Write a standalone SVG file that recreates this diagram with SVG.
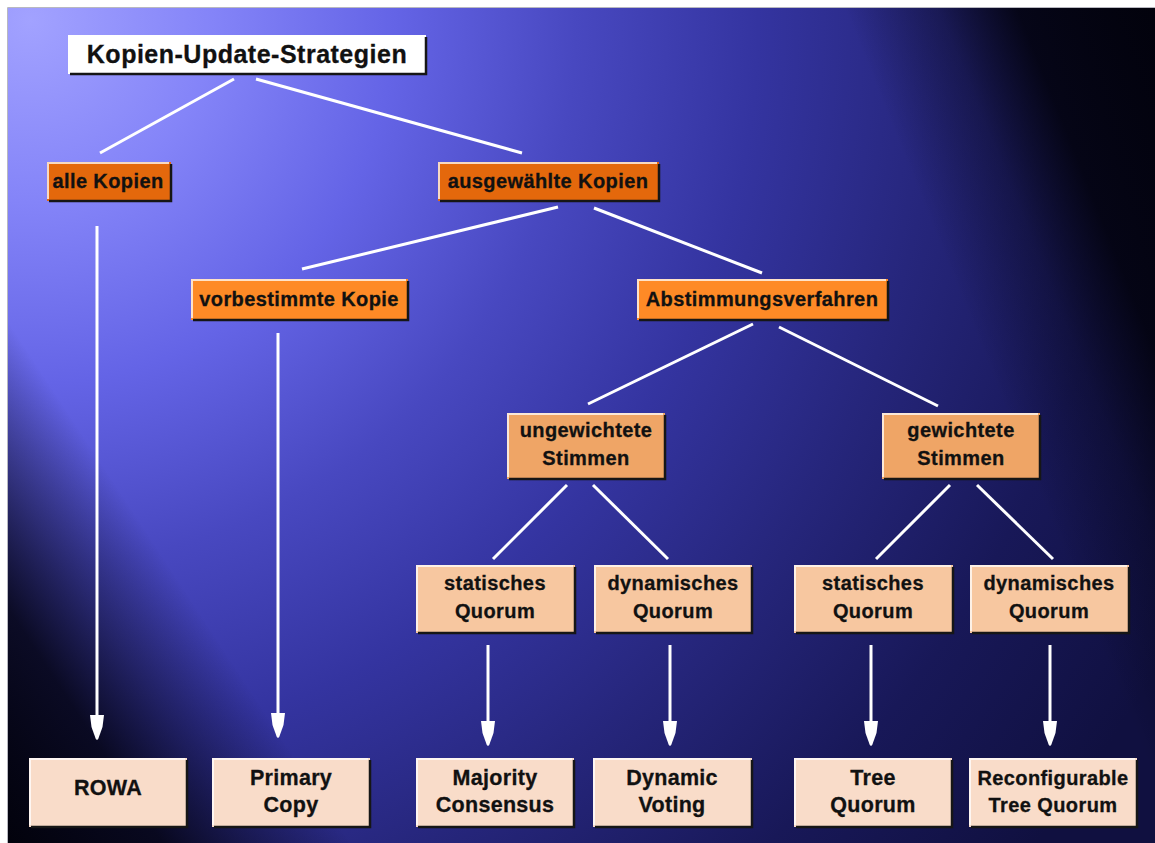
<svg xmlns="http://www.w3.org/2000/svg" width="1155" height="843" viewBox="0 0 1155 843">
  <defs>
    <radialGradient id="bgGlow" gradientUnits="userSpaceOnUse" cx="30" cy="20" r="1300" fx="30" fy="20">
      <stop offset="0" stop-color="#a2a2ff"/>
      <stop offset="0.14" stop-color="#8484f8"/>
      <stop offset="0.28" stop-color="#6464e6"/>
      <stop offset="0.42" stop-color="#4848c0"/>
      <stop offset="0.56" stop-color="#3434a0"/>
      <stop offset="0.7" stop-color="#26267c"/>
      <stop offset="0.85" stop-color="#181858"/>
      <stop offset="1" stop-color="#101040"/>
    </radialGradient>
    <linearGradient id="shadeTopRight" gradientUnits="userSpaceOnUse" x1="867" y1="65" x2="1138" y2="-44">
      <stop offset="0" stop-color="#02020c" stop-opacity="0"/>
      <stop offset="0.3" stop-color="#02020c" stop-opacity="0.35"/>
      <stop offset="0.55" stop-color="#02020c" stop-opacity="0.88"/>
      <stop offset="1" stop-color="#02020c" stop-opacity="1"/>
    </linearGradient>
    <linearGradient id="shadeBottomLeft" gradientUnits="userSpaceOnUse" x1="245" y1="681" x2="5" y2="839">
      <stop offset="0" stop-color="#02020c" stop-opacity="0"/>
      <stop offset="0.3" stop-color="#02020c" stop-opacity="0.45"/>
      <stop offset="0.55" stop-color="#02020c" stop-opacity="0.85"/>
      <stop offset="1" stop-color="#02020c" stop-opacity="1"/>
    </linearGradient>
    <marker id="arrowHead" markerUnits="userSpaceOnUse" viewBox="0 -8 26 16" markerWidth="26" markerHeight="16" refX="13" refY="0" orient="auto">
      <path d="M0,-7 L12,-5.5 L24,-1.2 L25,0 L24,1.2 L12,5.5 L0,7 Z" fill="#ffffff"/>
    </marker>
    <style>
      .edge { stroke: #ffffff; stroke-width: 3; fill: none; }
      .arrow { stroke: #ffffff; stroke-width: 3; fill: none; marker-end: url(#arrowHead); }
      .hi { fill: none; stroke: #ffffff; stroke-opacity: 0.75; stroke-width: 2; }
      .sh { fill: none; stroke: #161616; stroke-width: 2.5; }
      .title { fill: #ffffff; }
      .dark { fill: #e4680c; }
      .mid { fill: #fe8a26; }
      .tan { fill: #efa566; }
      .peach { fill: #f7c7a0; }
      .pale { fill: #f9dcc9; }
      text { font-family: "Liberation Sans", Arial, sans-serif; font-weight: bold; fill: #111111; stroke: #111111; stroke-width: 0.3px; text-anchor: middle; }
      .t20 { font-size: 20px; letter-spacing: 0.4px; }
      .t22 { font-size: 21.5px; letter-spacing: 0.3px; }
      .tBig { font-size: 25px; letter-spacing: 0.5px; }
    </style>
  </defs>

  <!-- backdrop -->
  <rect x="0" y="0" width="1155" height="843" fill="#ffffff"/>
  <rect x="8" y="8" width="1147" height="835" fill="url(#bgGlow)"/>
  <rect x="8" y="8" width="1147" height="835" fill="url(#shadeTopRight)"/>
  <rect x="8" y="8" width="1147" height="835" fill="url(#shadeBottomLeft)"/>
  <path d="M7.5,843 V7.5 H1155" fill="none" stroke="#b8b8c0" stroke-width="1"/>

  <!-- connectors -->
  <g id="connectors">
    <line class="edge" x1="234" y1="79" x2="100" y2="153"/>
    <line class="edge" x1="256" y1="79" x2="522" y2="153"/>
    <line class="edge" x1="558" y1="207" x2="302" y2="269"/>
    <line class="edge" x1="594" y1="208" x2="762" y2="273"/>
    <line class="edge" x1="753" y1="324" x2="588" y2="404"/>
    <line class="edge" x1="779" y1="327" x2="938" y2="406"/>
    <line class="edge" x1="567" y1="485" x2="493" y2="559"/>
    <line class="edge" x1="593" y1="485" x2="668" y2="559"/>
    <line class="edge" x1="950" y1="485" x2="876" y2="559"/>
    <line class="edge" x1="977" y1="485" x2="1053" y2="559"/>
    <line class="arrow" x1="97" y1="226" x2="97" y2="728"/>
    <line class="arrow" x1="278" y1="333" x2="278" y2="726"/>
    <line class="arrow" x1="488" y1="645" x2="488" y2="734"/>
    <line class="arrow" x1="670" y1="645" x2="670" y2="734"/>
    <line class="arrow" x1="871" y1="645" x2="871" y2="734"/>
    <line class="arrow" x1="1050" y1="645" x2="1050" y2="734"/>
  </g>

  <!-- level 0 -->
  <g id="kopien-update-strategien">
    <rect class="title" x="68" y="35" width="358" height="39"/>
    <path class="sh" d="M70,74 H426 V37"/>
    <text class="tBig" x="247" y="63">Kopien-Update-Strategien</text>
  </g>

  <!-- level 1 -->
  <g id="alle-kopien">
    <rect class="dark" x="47" y="162" width="124" height="39"/>
    <path class="hi" d="M48,199 V163 H169"/>
    <path class="sh" d="M49,201 H171 V164"/>
    <text class="t20" x="108" y="188">alle Kopien</text>
  </g>
  <g id="ausgewaehlte-kopien">
    <rect class="dark" x="438" y="162" width="221" height="39"/>
    <path class="hi" d="M439,199 V163 H657"/>
    <path class="sh" d="M440,201 H659 V164"/>
    <text class="t20" x="548" y="188">ausgewählte Kopien</text>
  </g>

  <!-- level 2 -->
  <g id="vorbestimmte-kopie">
    <rect class="mid" x="191" y="279" width="217" height="41"/>
    <path class="hi" d="M192,318 V280 H406"/>
    <path class="sh" d="M193,320 H408 V281"/>
    <text class="t20" x="299" y="306">vorbestimmte Kopie</text>
  </g>
  <g id="abstimmungsverfahren">
    <rect class="mid" x="637" y="279" width="251" height="41"/>
    <path class="hi" d="M638,318 V280 H886"/>
    <path class="sh" d="M639,320 H888 V281"/>
    <text class="t20" x="762" y="306">Abstimmungsverfahren</text>
  </g>

  <!-- level 3 -->
  <g id="ungewichtete-stimmen">
    <rect class="tan" x="507" y="413" width="158" height="66"/>
    <path class="hi" d="M508,477 V414 H663"/>
    <path class="sh" d="M509,479 H665 V415"/>
    <text class="t20" x="586" y="437">ungewichtete</text>
    <text class="t20" x="586" y="465">Stimmen</text>
  </g>
  <g id="gewichtete-stimmen">
    <rect class="tan" x="882" y="413" width="158" height="66"/>
    <path class="hi" d="M883,477 V414 H1038"/>
    <path class="sh" d="M884,479 H1040 V415"/>
    <text class="t20" x="961" y="437">gewichtete</text>
    <text class="t20" x="961" y="465">Stimmen</text>
  </g>

  <!-- level 4 -->
  <g id="statisches-quorum-1">
    <rect class="peach" x="416" y="565" width="159" height="68"/>
    <path class="hi" d="M417,631 V566 H573"/>
    <path class="sh" d="M418,633 H575 V567"/>
    <text class="t20" x="495" y="590">statisches</text>
    <text class="t20" x="495" y="618">Quorum</text>
  </g>
  <g id="dynamisches-quorum-1">
    <rect class="peach" x="594" y="565" width="158" height="68"/>
    <path class="hi" d="M595,631 V566 H750"/>
    <path class="sh" d="M596,633 H752 V567"/>
    <text class="t20" x="673" y="590">dynamisches</text>
    <text class="t20" x="673" y="618">Quorum</text>
  </g>
  <g id="statisches-quorum-2">
    <rect class="peach" x="794" y="565" width="159" height="68"/>
    <path class="hi" d="M795,631 V566 H951"/>
    <path class="sh" d="M796,633 H953 V567"/>
    <text class="t20" x="873" y="590">statisches</text>
    <text class="t20" x="873" y="618">Quorum</text>
  </g>
  <g id="dynamisches-quorum-2">
    <rect class="peach" x="970" y="565" width="159" height="68"/>
    <path class="hi" d="M971,631 V566 H1127"/>
    <path class="sh" d="M972,633 H1129 V567"/>
    <text class="t20" x="1049" y="590">dynamisches</text>
    <text class="t20" x="1049" y="618">Quorum</text>
  </g>

  <!-- level 5: concrete protocols -->
  <g id="rowa">
    <rect class="pale" x="29" y="758" width="158" height="69"/>
    <path class="hi" d="M30,825 V759 H185"/>
    <path class="sh" d="M31,827 H187 V760"/>
    <text class="t22" x="108" y="795">ROWA</text>
  </g>
  <g id="primary-copy">
    <rect class="pale" x="212" y="758" width="158" height="69"/>
    <path class="hi" d="M213,825 V759 H368"/>
    <path class="sh" d="M214,827 H370 V760"/>
    <text class="t22" x="291" y="785">Primary</text>
    <text class="t22" x="291" y="812">Copy</text>
  </g>
  <g id="majority-consensus">
    <rect class="pale" x="416" y="758" width="158" height="69"/>
    <path class="hi" d="M417,825 V759 H572"/>
    <path class="sh" d="M418,827 H574 V760"/>
    <text class="t22" x="495" y="785">Majority</text>
    <text class="t22" x="495" y="812">Consensus</text>
  </g>
  <g id="dynamic-voting">
    <rect class="pale" x="593" y="758" width="159" height="69"/>
    <path class="hi" d="M594,825 V759 H750"/>
    <path class="sh" d="M595,827 H752 V760"/>
    <text class="t22" x="672" y="785">Dynamic</text>
    <text class="t22" x="672" y="812">Voting</text>
  </g>
  <g id="tree-quorum">
    <rect class="pale" x="794" y="758" width="158" height="69"/>
    <path class="hi" d="M795,825 V759 H950"/>
    <path class="sh" d="M796,827 H952 V760"/>
    <text class="t22" x="873" y="785">Tree</text>
    <text class="t22" x="873" y="812">Quorum</text>
  </g>
  <g id="reconfigurable-tree-quorum">
    <rect class="pale" x="969" y="758" width="168" height="69"/>
    <path class="hi" d="M970,825 V759 H1135"/>
    <path class="sh" d="M971,827 H1137 V760"/>
    <text class="t20" x="1053" y="785">Reconfigurable</text>
    <text class="t20" x="1053" y="812">Tree Quorum</text>
  </g>
</svg>
